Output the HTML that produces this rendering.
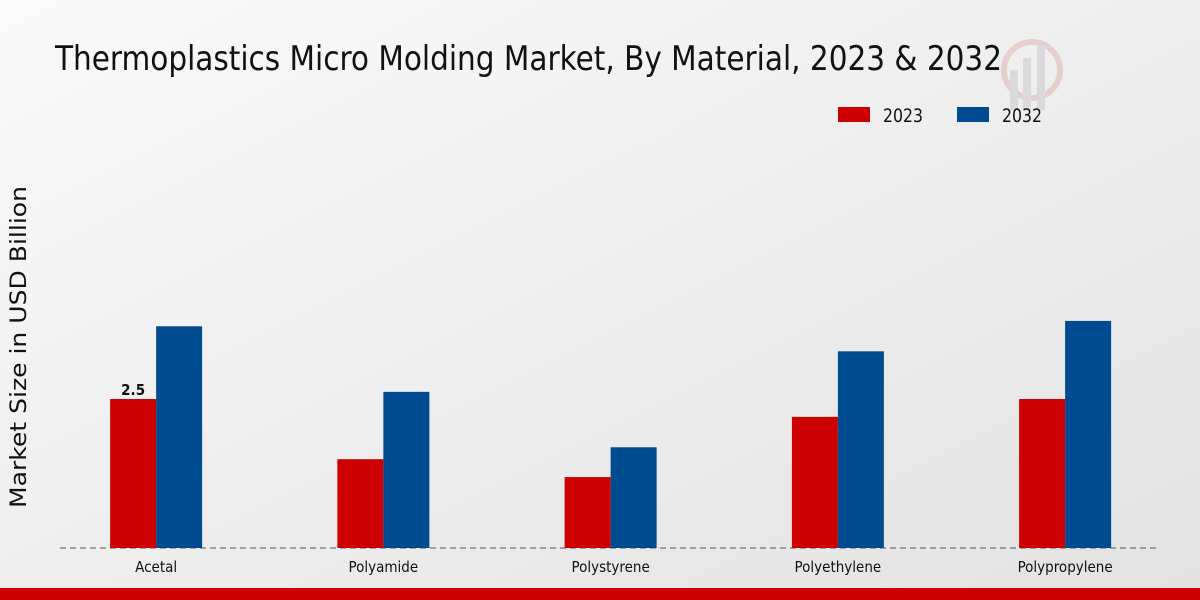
<!DOCTYPE html>
<html><head><meta charset="utf-8"><style>
html,body{margin:0;padding:0;width:1200px;height:600px;overflow:hidden}
svg{display:block}
text{font-family:"DejaVu Sans Condensed","DejaVu Sans","Liberation Sans",sans-serif}
#ytitle{font-family:"DejaVu Sans","Liberation Sans",sans-serif}
</style></head><body>
<svg id="chart" width="1200" height="600">
<defs><linearGradient id="bg" x1="0" y1="0" x2="1" y2="1"><stop offset="0" stop-color="#fafafa"/><stop offset="1" stop-color="#e2e2e2"/></linearGradient></defs>
<rect width="1200" height="600" fill="url(#bg)"/>
<text x="55" y="70" font-size="34" textLength="947" lengthAdjust="spacingAndGlyphs" fill="#111">Thermoplastics Micro Molding Market, By Material, 2023 &amp; 2032</text>
<g opacity="0.5">
<circle cx="1032" cy="70" r="28" fill="none" stroke="#e0b0b0" stroke-width="6"/>
<rect x="1010" y="70" width="8" height="40" fill="#c8c8cc"/><rect x="1023" y="58" width="8" height="52" fill="#c8c8cc"/><rect x="1037" y="46" width="8" height="64" fill="#c8c8cc"/>
</g>
<g>
<rect x="838" y="107" width="32" height="15" fill="#cc0000"/>
<text x="883" y="122" font-size="19" textLength="40" lengthAdjust="spacingAndGlyphs" fill="#111">2023</text>
<rect x="957" y="107" width="32" height="15" fill="#004a8f"/>
<text x="1002" y="122" font-size="19" textLength="40" lengthAdjust="spacingAndGlyphs" fill="#111">2032</text>
</g>
<text id="ytitle" transform="translate(26,347) rotate(-90)" x="-161" y="0" font-size="22" textLength="322" lengthAdjust="spacingAndGlyphs" fill="#111">Market Size in USD Billion</text>
<line x1="60" y1="548" x2="1160" y2="548" stroke="#555" stroke-dasharray="6,4"/>
<g id="bars"></g>
<rect x="0" y="588" width="1200" height="12" fill="#cc0000"/>
</svg>
<script>
const categories=["Acetal","Polyamide","Polystyrene","Polyethylene","Polypropylene"];
const values2023=[2.5,1.49,1.19,2.2,2.5];
const values2032=[3.72,2.62,1.69,3.3,3.81];
const labelIndex=0;
const ns="http://www.w3.org/2000/svg";
const g=document.getElementById('bars');
const x0=42.5,band=227.25,barW=46,base=548,pxPerUnit=59.6;
const y=v=>base-v*pxPerUnit;
function mk(tag,attrs){const e=document.createElementNS(ns,tag);for(const k in attrs)e.setAttribute(k,attrs[k]);return e;}
categories.forEach((c,i)=>{
  const cx=x0+band*i+band/2;
  const r1=mk('rect',{x:cx-barW,y:y(values2023[i]),width:barW,height:base-y(values2023[i]),fill:'#cc0000'});
  
  
  g.appendChild(r1);
  const r2=mk('rect',{x:cx,y:y(values2032[i]),width:barW,height:base-y(values2032[i]),fill:'#004a8f'});
  
  
  g.appendChild(r2);
  const t=mk('text',{x:cx,y:572,'text-anchor':'middle','font-size':'15',fill:'#111'});
  t.textContent=c;
  
  
  g.appendChild(t);
  if(i===labelIndex){
    const v=mk('text',{x:cx-barW/2,y:y(values2023[i])-4,'text-anchor':'middle','font-size':'15','font-weight':'bold',fill:'#111'});
    v.textContent=String(values2023[i]);
    
    
    g.appendChild(v);
  }
});
</script>
</body></html>
